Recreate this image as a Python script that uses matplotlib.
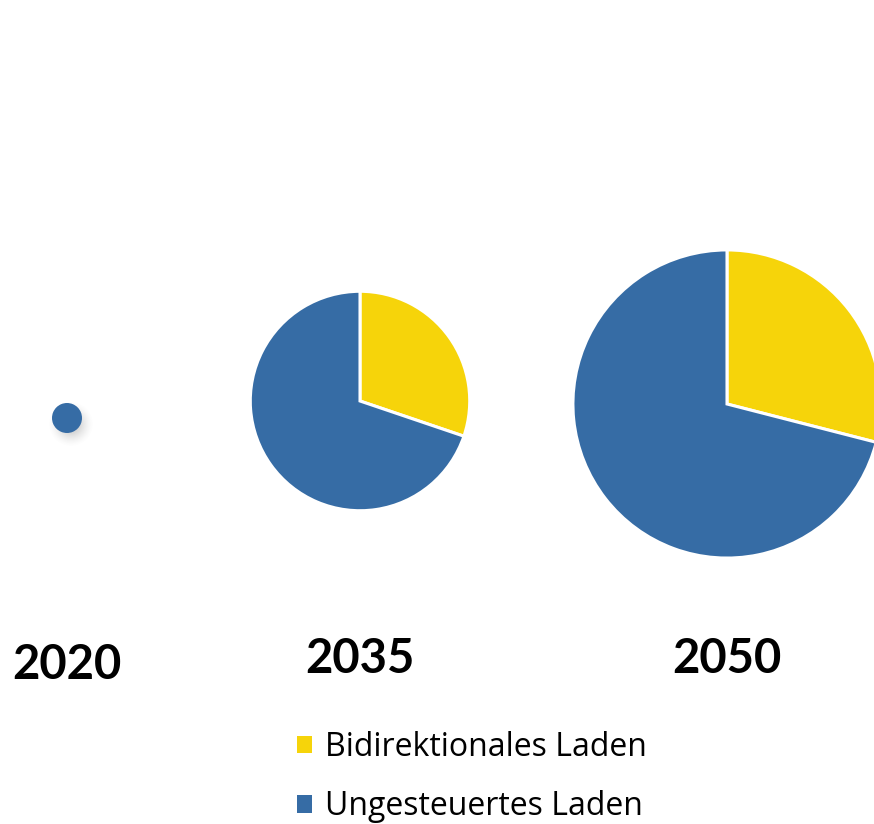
import numpy as np
import matplotlib
matplotlib.use("Agg")
import matplotlib.pyplot as plt
from matplotlib.patches import Patch

plt.rcParams['font.family'] = ['Lato', 'DejaVu Sans']

# Charging mix per scenario year
years = ["2020", "2035", "2050"]
series = ["Bidirektionales Laden", "Ungesteuertes Laden"]
bidirektional = [0.0, 30.2, 29.0]      # share in %
ungesteuert = [100.0, 69.8, 71.0]      # share in %
total_load = [1.0, 53.5, 105.5]        # relative total charging volume

colors = {"Bidirektionales Laden": "#F6D40A", "Ungesteuertes Laden": "#366CA5"}

W, H = 874, 824
fig = plt.figure(figsize=(W / 100, H / 100), dpi=100)
ax = fig.add_axes([0, 0, 1, 1])

centers = [(67, 418), (360, 401), (727, 404)]
label_y = [665, 659, 659]
scale = 15.0  # radius in px per sqrt(unit)

for i, yr in enumerate(years):
    cx, cy = centers[i]
    r = scale * np.sqrt(total_load[i])
    vals = [bidirektional[i], ungesteuert[i]]
    cols = [colors[s] for s in series]
    keep = [k for k, v in enumerate(vals) if v > 0]
    vals = [vals[k] for k in keep]
    cols = [cols[k] for k in keep]
    if len(vals) == 1:
        # soft drop shadow for the single-slice pie
        gx = np.linspace(cx - 40, cx + 40, 161)
        gy = np.linspace(cy - 40, cy + 40, 161)
        X, Y = np.meshgrid(gx, gy)
        d = np.hypot(X - (cx + 4), Y - (cy + 6))
        a = np.clip((r + 8 - d) / 14, 0, 1) ** 1.5 * 0.28
        img = np.zeros((161, 161, 4))
        img[..., :3] = 0.45
        img[..., 3] = a
        ax.imshow(img, extent=(cx - 40, cx + 40, -(cy + 40), -(cy - 40)),
                  zorder=1, interpolation='bilinear')
        ax.pie(vals, colors=cols, center=(cx, -cy), radius=r,
               startangle=90, counterclock=False, frame=True,
               wedgeprops=dict(linewidth=0))
    else:
        ax.pie(vals, colors=cols, center=(cx, -cy), radius=r,
               startangle=90, counterclock=False, frame=True,
               wedgeprops=dict(edgecolor='white', linewidth=2.2))
    ax.text(cx, -label_y[i], yr, ha='center', va='center',
            fontsize=34, fontweight='bold', color='black')

ax.set_xlim(0, W)
ax.set_ylim(-H, 0)
ax.set_aspect('equal')
ax.axis('off')

handles = [Patch(facecolor=colors[s], edgecolor='none') for s in series]
ax.legend(handles, series, loc='upper left',
          bbox_to_anchor=(297 / W, 1 - 731 / H), frameon=False,
          prop={'family': 'Open Sans', 'size': 23},
          handlelength=0.47, handleheight=0.47,
          handletextpad=0.42, labelspacing=0.82, borderpad=0,
          borderaxespad=0)

fig.savefig("out.png", dpi=100)
